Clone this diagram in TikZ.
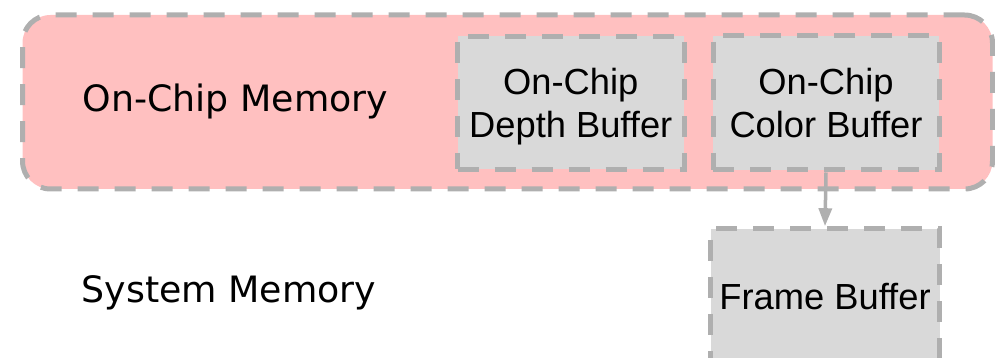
\documentclass[tikz,border=0pt]{standalone}
\usepackage{fontspec}
\newfontfamily\labfont{DejaVu Sans}
\newfontfamily\buffont{Liberation Sans}
\usetikzlibrary{arrows.meta}
\definecolor{pinkfill}{RGB}{255,192,192}
\definecolor{greyfill}{RGB}{217,217,217}
\definecolor{dashgrey}{RGB}{175,175,175}
\tikzset{
  dashbox/.style={draw=dashgrey, line width=5pt, dash pattern=on 21pt off 16pt},
  outerbox/.style={dashbox, fill=pinkfill, rounded corners=28pt},
  bufbox/.style={dashbox, fill=greyfill, inner sep=0pt},
  buftext/.style={inner sep=0pt, align=center, anchor=base,
    font=\buffont\fontsize{36.3}{43}\selectfont},
  memlabel/.style={font=\labfont\fontsize{36.3}{40}\selectfont, anchor=base, inner sep=0pt},
  arrowline/.style={draw=dashgrey, line width=3.5pt, -{Triangle[width=13pt,length=18pt]}}
}
\begin{document}
\begin{tikzpicture}[x=1pt,y=-1pt]
\useasboundingbox (0,0) rectangle (995,358);
\clip (0,0) rectangle (995,358);
\node[outerbox, minimum width=970pt, minimum height=174pt] (onchip) at (507.5,102) {};
\node[memlabel] (onchiplabel) at (235.5,111.7) {On-Chip Memory};
\node[memlabel] (syslabel) at (229,302.7) {System Memory};
\node[bufbox, minimum width=226.5pt, minimum height=133pt] (depth) at (570.75,102.75) {};
\node[bufbox, minimum width=226pt, minimum height=134pt] (color) at (826,103) {};
\node[bufbox, minimum width=229pt, minimum height=160pt] (frame) at (825,308.7) {};
\node[buftext] (depthtext) at (570.75,138) {On-Chip\\Depth Buffer};
\node[buftext] (colortext) at (826,138) {On-Chip\\Color Buffer};
\node[buftext] (frametext) at (825,309) {Frame Buffer};
\draw[arrowline] (color.south) -- (frame.north);
\end{tikzpicture}
\end{document}
